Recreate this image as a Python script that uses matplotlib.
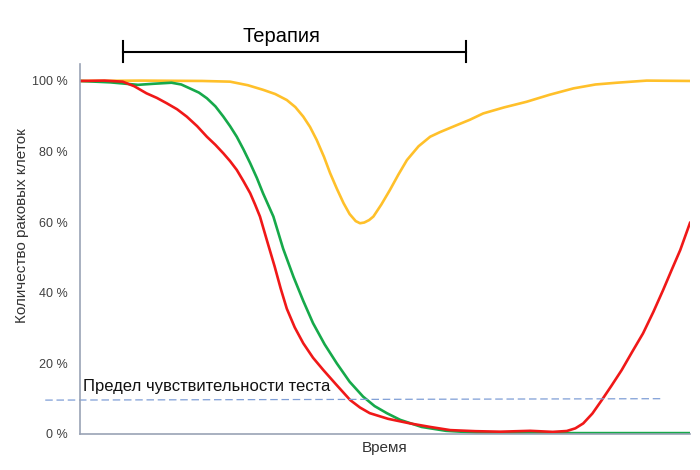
import matplotlib.pyplot as plt

plt.rcParams['font.family'] = ['Liberation Sans', 'DejaVu Sans']

# time in arbitrary units (0..100), values in % of cancer cells
t_yellow = [0, 10, 20, 24.6, 27.5, 30, 32.0, 33.9, 35.3, 36.6, 37.7, 38.8, 40.0,
            41.0, 42.1, 43.2, 44.2, 45.2, 45.9, 46.6, 47.4, 48.1, 49.4, 50.8,
            52.2, 53.6, 55.5, 57.4, 59.0, 61.5, 63.9, 66.1, 69.5, 73.2, 77.0,
            80.9, 84.5, 88.0, 92.9, 100]
v_yellow = [100, 100.1, 100, 99.8, 98.8, 97.5, 96.3, 94.6, 92.6, 89.9, 87.0, 83.3, 78.5,
            73.9, 69.5, 65.4, 62.3, 60.3, 59.7, 59.9, 60.6, 61.6, 65.0, 69.1,
            73.5, 77.6, 81.5, 84.2, 85.5, 87.3, 89.0, 90.8, 92.5, 94.1, 96.1,
            97.9, 99.0, 99.5, 100.1, 100]

t_green = [0, 5, 9.5, 12, 15, 16.6, 18.0, 19.5, 20.8, 22.2, 23.5, 24.6, 25.7,
           26.8, 27.9, 29.0, 30.0, 31.7, 33.3, 35.0, 36.6, 38.2, 40.1, 42.1,
           44.2, 46.4, 48.3, 50.3, 52.5, 56, 60, 65, 75, 100]
v_green = [100, 99.6, 98.9, 99.2, 99.5, 99.0, 97.9, 96.7, 95.1, 92.8, 89.9, 87.2, 84.2,
           80.6, 76.7, 72.5, 68.2, 61.6, 52.5, 44.5, 37.7, 31.4, 25.4, 20.0,
           14.8, 10.6, 7.9, 5.9, 4.0, 2.0, 0.9, 0.4, 0.25, 0.25]

t_red = [0, 4, 7.0, 8.9, 10.9, 12.6, 14.2, 15.9, 17.5, 19.2, 20.8, 22.2, 23.5,
         24.6, 25.7, 26.8, 27.9, 28.7, 29.5, 30.7, 31.9, 32.9, 33.9, 35.2,
         36.6, 38.2, 39.9, 42.0, 44.3, 45.9, 47.5, 50.5, 54.1, 57.4, 60.7,
         64.8, 68.9, 73.8, 77.5, 79.8, 81.2, 82.5, 84.0, 85.5, 87.1, 88.8,
         90.5, 92.3, 94.0, 95.6, 97.0, 98.4, 100]
v_red = [100, 100.1, 99.8, 98.5, 96.5, 95.2, 93.7, 92.0, 89.9, 87.2, 84.2, 81.9, 79.5,
         77.3, 74.8, 71.6, 68.2, 65.0, 61.6, 54.5, 47.5, 41.2, 35.5, 30.2,
         25.7, 21.6, 18.1, 14.0, 9.6, 7.5, 5.9, 4.3, 3.0, 2.0, 1.1,
         0.8, 0.65, 0.9, 0.6, 0.85, 1.6, 3.0, 5.8, 9.5, 13.6, 18.1,
         23.2, 28.5, 34.6, 40.8, 46.5, 52.1, 59.8]

limit = 9.6
therapy_start, therapy_end = 7.0, 63.3
y_ticks = [0, 20, 40, 60, 80, 100]

fig = plt.figure(figsize=(7, 4.7), dpi=100)
ax = fig.add_axes([0.1143, 0.0766, 0.8714, 0.7872])

ax.plot(t_yellow, v_yellow, color='#FFC02A', lw=1.9, solid_joinstyle='round')
ax.plot(t_green, v_green, color='#16A94A', lw=1.9, solid_joinstyle='round')
ax.plot(t_red, v_red, color='#F01818', lw=1.9, solid_joinstyle='round')

ax.plot([-5.7, 95.6], [limit, limit + 0.4], color='#7F9ED6', lw=0.9,
        dashes=(6, 3), clip_on=False)
ax.text(0.5, limit + 1.6, 'Предел чувствительности теста', fontsize=12,
        color='#111111', va='bottom', ha='left')

# therapy interval bar above the plot
ax.plot([therapy_start, therapy_end], [108.2, 108.2], color='black', lw=1.5,
        clip_on=False)
for x in (therapy_start, therapy_end):
    ax.plot([x, x], [105.3, 111.2], color='black', lw=1.5, clip_on=False)
ax.text(33.0, 110, 'Терапия', fontsize=14.5, ha='center', va='bottom',
        color='black')

ax.set_xlim(0, 100)
ax.set_ylim(0, 104.8)
ax.set_yticks(y_ticks)
ax.set_yticklabels([f'{v} %' for v in y_ticks], fontsize=9, color='#404040')
ax.set_xticks([])
ax.tick_params(axis='y', length=0, pad=9)
for s in ('top', 'right'):
    ax.spines[s].set_visible(False)
for s in ('left', 'bottom'):
    ax.spines[s].set_color('#9AA3B5')
    ax.spines[s].set_linewidth(1.2)

fig.text(22 / 700, 1 - 226 / 470, 'Количество раковых клеток', rotation=90,
         fontsize=11, color='#333333', ha='center', va='center')
ax.set_xlabel('Время', fontsize=11, color='#333333', labelpad=5)

fig.savefig('out.png', dpi=100)
